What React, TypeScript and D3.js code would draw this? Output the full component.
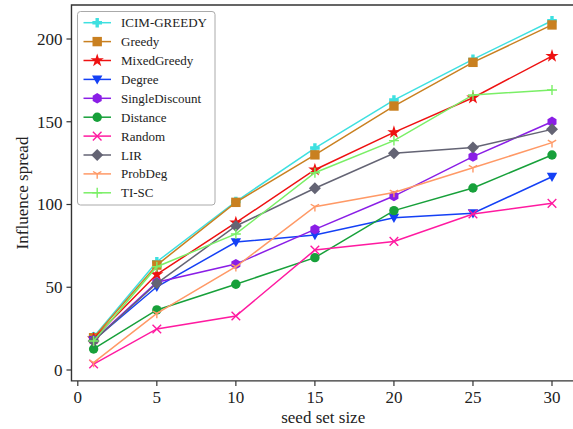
import React from 'react';
import * as d3 from 'd3';

const seedSizes = [1, 5, 10, 15, 20, 25, 30];
const xTicks = [0, 5, 10, 15, 20, 25, 30];
const yTicks = [0, 50, 100, 150, 200];

const seriesNames = ['ICIM-GREEDY', 'Greedy', 'MixedGreedy', 'Degree', 'SingleDiscount', 'Distance', 'Random', 'LIR', 'ProbDeg', 'TI-SC'];
const icimGreedy = [20, 65.4, 101.8, 134.1, 163.1, 187.7, 211];
const greedy = [19.5, 63.4, 101.3, 130, 159.5, 185.9, 208.5];
const mixedGreedy = [19, 57.8, 89, 121, 143.6, 164.5, 189.7];
const degree = [18, 50.3, 77.3, 81.6, 92, 94.7, 116.8];
const singleDiscount = [18, 53, 64, 85, 105.1, 128.9, 150];
const distance = [12.7, 36.3, 51.8, 67.9, 96.3, 110, 129.9];
const random = [3.6, 24.8, 32.6, 72.5, 77.7, 94.3, 100.7];
const lir = [17.5, 52.4, 87, 109.8, 130.9, 134.5, 145.4];
const probDeg = [4.5, 34.2, 62.4, 98.7, 107.3, 122.2, 137.4];
const tiSc = [17.5, 62.4, 82.2, 119.2, 138.6, 166.2, 169.2];

const seriesValues = [icimGreedy, greedy, mixedGreedy, degree, singleDiscount, distance, random, lir, probDeg, tiSc];
const colors = ['#3ee0e0', '#c98020', '#ee1111', '#1440f5', '#8a1ee6', '#17a03a', '#ff1aa0', '#646474', '#ff9966', '#7aef66'];
const markers = ['plusFilled', 'square', 'star', 'triDown', 'hexagon', 'circle', 'x', 'diamond', 'triY', 'plus'];

const W = 573, H = 429;
const FONT = "'Liberation Serif', 'DejaVu Serif', serif";

function Marker({ type, color, x, y }: { type: string; color: string; x: number; y: number }) {
  const t = `translate(${x},${y})`;
  switch (type) {
    case 'plusFilled': {
      const r = 4.8, w = 1.7;
      const d = `M${-w},${-r}H${w}V${-w}H${r}V${w}H${w}V${r}H${-w}V${w}H${-r}V${-w}H${-w}Z`;
      return <path transform={t} d={d} fill={color} />;
    }
    case 'square':
      return <rect x={x - 4.7} y={y - 4.7} width={9.4} height={9.4} fill={color} />;
    case 'star': {
      const p = d3.symbol(d3.symbolStar, 55)();
      return <path transform={t} d={p || ''} fill={color} />;
    }
    case 'triDown': {
      const r = 5.2;
      return <path transform={t} d={`M0,${r}L${-r},${-r * 0.75}L${r},${-r * 0.75}Z`} fill={color} />;
    }
    case 'hexagon': {
      const r = 5.2;
      const pts = d3.range(6).map(i => {
        const a = (Math.PI / 3) * i + Math.PI / 6;
        return [r * Math.cos(a), r * Math.sin(a)];
      });
      return <path transform={t} d={'M' + pts.map(p => p.join(',')).join('L') + 'Z'} fill={color} />;
    }
    case 'circle':
      return <circle cx={x} cy={y} r={4.7} fill={color} />;
    case 'x': {
      const r = 4.3;
      return <path transform={t} d={`M${-r},${-r}L${r},${r}M${-r},${r}L${r},${-r}`} stroke={color} strokeWidth={1.4} fill="none" />;
    }
    case 'diamond': {
      const r = 6;
      return <path transform={t} d={`M0,${-r}L${r},0L0,${r}L${-r},0Z`} fill={color} />;
    }
    case 'triY': {
      const r = 4.8;
      return <path transform={t} d={`M0,0L0,${r}M0,0L${-r * 0.87},${-r / 2}M0,0L${r * 0.87},${-r / 2}`} stroke={color} strokeWidth={1.4} fill="none" />;
    }
    case 'plus': {
      const r = 5;
      return <path transform={t} d={`M${-r},0H${r}M0,${-r}V${r}`} stroke={color} strokeWidth={1.4} fill="none" />;
    }
  }
  return null;
}

export default function App() {
  const x = d3.scaleLinear().domain([0, 30]).range([77.8, 552]);
  const y = d3.scaleLinear().domain([0, 200]).range([370, 39]);
  const left = x(-0.4), right = x(31.45), top = y(220.5), bottom = y(-6.6);
  const line = d3.line<number>().x((_, i) => x(seedSizes[i])).y(v => y(v));

  const legX = 77.5, legY = 11.5, legW = 137.5, legH = 193.5;
  const rowY = (i: number) => 22.7 + i * 18.9;

  return (
    <svg width={W} height={H} style={{ position: 'fixed', left: 0, top: 0, background: '#fff', fontFamily: FONT }}>
      <rect width={W} height={H} fill="#fff" />
      {seriesValues.map((vals, si) => (
        <g key={si}>
          <path d={line(vals) || ''} fill="none" stroke={colors[si]} strokeWidth={1.5} />
          {vals.map((v, i) => (
            <Marker key={i} type={markers[si]} color={colors[si]} x={x(seedSizes[i])} y={y(v)} />
          ))}
        </g>
      ))}
      <path d={`M${right},${top}H${left}V${bottom}H${right}`} fill="none" stroke="#333" strokeWidth={1.4} />
      {xTicks.map(t => (
        <g key={t}>
          <line x1={x(t)} x2={x(t)} y1={bottom} y2={bottom + 5} stroke="#333" strokeWidth={1.2} />
          <text x={x(t)} y={bottom + 22.5} textAnchor="middle" fontSize={17} fill="#222">{t}</text>
        </g>
      ))}
      {yTicks.map(t => (
        <g key={t}>
          <line x1={left - 5} x2={left} y1={y(t)} y2={y(t)} stroke="#333" strokeWidth={1.2} />
          <text x={left - 9} y={y(t)} dy="0.35em" textAnchor="end" fontSize={17} fill="#222">{t}</text>
        </g>
      ))}
      <text x={(left + right) / 2} y={423} textAnchor="middle" fontSize={17} fill="#222">seed set size</text>
      <text transform={`translate(27.5,${(top + bottom) / 2}) rotate(-90)`} textAnchor="middle" fontSize={17} fill="#222">Influence spread</text>
      <rect x={legX} y={legY} width={legW} height={legH} rx={3} fill="#fff" fillOpacity={0.9} stroke="#aaa" strokeWidth={1} />
      {seriesNames.map((name, i) => (
        <g key={name}>
          <line x1={83.5} x2={111} y1={rowY(i)} y2={rowY(i)} stroke={colors[i]} strokeWidth={1.5} />
          <Marker type={markers[i]} color={colors[i]} x={97.2} y={rowY(i)} />
          <text x={121} y={rowY(i)} dy="0.35em" fontSize={13} fill="#222">{name}</text>
        </g>
      ))}
    </svg>
  );
}
